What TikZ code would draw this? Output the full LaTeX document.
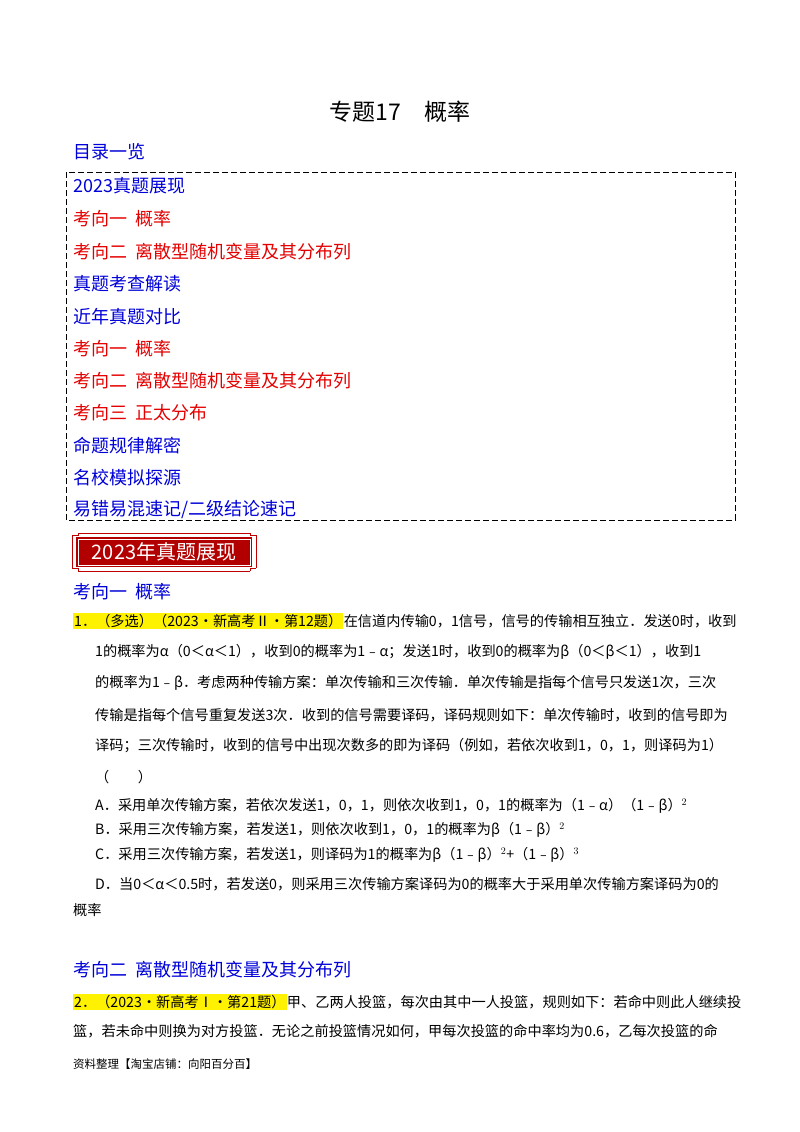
\documentclass[tikz,border=0pt]{standalone}
\usepackage{fontspec}
\setmainfont{Noto Sans CJK SC}
\begin{document}
\begin{tikzpicture}[x=1pt,y=-1pt,
 txt/.style={anchor=west,inner sep=0pt,font=\fontsize{14.2}{16}\selectfont},
 toc/.style={anchor=west,inner sep=0pt,font=\fontsize{18}{20}\selectfont},
 tb/.style={toc,text=blue!85!black},
 tr/.style={toc,text=red!90!black},
 hd/.style={anchor=west,inner sep=0pt,font=\fontsize{18}{20}\selectfont,text=blue!85!black},
 hl/.style={txt,fill=yellow,inner sep=1pt}]
\useasboundingbox (0,0) rectangle (800,1132);
\fill[white] (0,0) rectangle (800,1132);
\node[inner sep=0pt,font=\fontsize{23}{25}\selectfont] (title) at (400,112) {专题17\quad 概率};
\node[tb] (ml) at (73,152) {目录一览};
\draw[dashed,dash pattern=on 6pt off 3pt,line width=0.8pt] (66,172) rectangle (735,520);
\node[tb] (t1) at (73,186) {2023真题展现};
\node[tr] (t2) at (73,219) {考向一\ \ 概率};
\node[tr] (t3) at (73,252) {考向二\ \ 离散型随机变量及其分布列};
\node[tb] (t4) at (73,284) {真题考查解读};
\node[tb] (t5) at (73,317) {近年真题对比};
\node[tr] (t6) at (73,349) {考向一\ \ 概率};
\node[tr] (t7) at (73,381) {考向二\ \ 离散型随机变量及其分布列};
\node[tr] (t8) at (73,413) {考向三\ \ 正太分布};
\node[tb] (t9) at (73,446) {命题规律解密};
\node[tb] (t10) at (73,478) {名校模拟探源};
\node[tb] (t11) at (73,510) {易错易混速记/二级结论速记};
% banner
\draw[red!75!black,line width=1pt] (72,535) -- (72,568) (256,535) -- (256,568) (78,533) -- (250,533) (78,571) -- (250,571);
\draw[red!75!black,line width=1pt] (72,535) -| (78,533) (256,535) -| (250,533) (72,568) -| (78,571) (256,568) -| (250,571);
\fill[red!70!black] (76,537) rectangle (252,567);
\draw[white,line width=0.6pt] (78,539) rectangle (250,565);
\node[inner sep=0pt,text=white,font=\fontsize{20}{22}\selectfont] (ban) at (164,552) {2023年真题展现};
\node[hd] (k1) at (73,592) {考向一\ \ 概率};
\node[hl] (q1) at (73,621) {1．（多选）（2023•新高考Ⅱ•第12题）};
\node[txt,anchor=west] (q1b) at (q1.east) {在信道内传输0，1信号，信号的传输相互独立．发送0时，收到};
\node[txt] (l2) at (95,652) {1的概率为α（0＜α＜1），收到0的概率为1﹣α；发送1时，收到0的概率为β（0＜β＜1），收到1};
\node[txt] (l3) at (95,683) {的概率为1﹣β．考虑两种传输方案：单次传输和三次传输．单次传输是指每个信号只发送1次，三次};
\node[txt] (l4) at (95,715) {传输是指每个信号重复发送3次．收到的信号需要译码，译码规则如下：单次传输时，收到的信号即为};
\node[txt] (l5) at (95,746) {译码；三次传输时，收到的信号中出现次数多的即为译码（例如，若依次收到1，0，1，则译码为1）};
\node[txt] (l6) at (95,777) {（\qquad ）};
\node[txt] (oa) at (95,806) {A．采用单次传输方案，若依次发送1，0，1，则依次收到1，0，1的概率为（1﹣α）（1﹣β）$^2$};
\node[txt] (ob) at (95,830) {B．采用三次传输方案，若发送1，则依次收到1，0，1的概率为β（1﹣β）$^2$};
\node[txt] (oc) at (95,855) {C．采用三次传输方案，若发送1，则译码为1的概率为β（1﹣β）$^2$+（1﹣β）$^3$};
\node[txt] (od) at (95,884) {D．当0＜α＜0.5时，若发送0，则采用三次传输方案译码为0的概率大于采用单次传输方案译码为0的};
\node[txt] (od2) at (73,910) {概率};
\node[hd] (k2) at (73,970) {考向二\ \ 离散型随机变量及其分布列};
\node[hl] (q2) at (73,1002) {2．（2023•新高考Ⅰ•第21题）};
\node[txt,anchor=west] (q2b) at (q2.east) {甲、乙两人投篮，每次由其中一人投篮，规则如下：若命中则此人继续投};
\node[txt] (m2) at (73,1031) {篮，若未命中则换为对方投篮．无论之前投篮情况如何，甲每次投篮的命中率均为0.6，乙每次投篮的命};
\node[txt,font=\fontsize{11.5}{13}\selectfont] (ft) at (73,1064) {资料整理【淘宝店铺：向阳百分百】};
\end{tikzpicture}
\end{document}
